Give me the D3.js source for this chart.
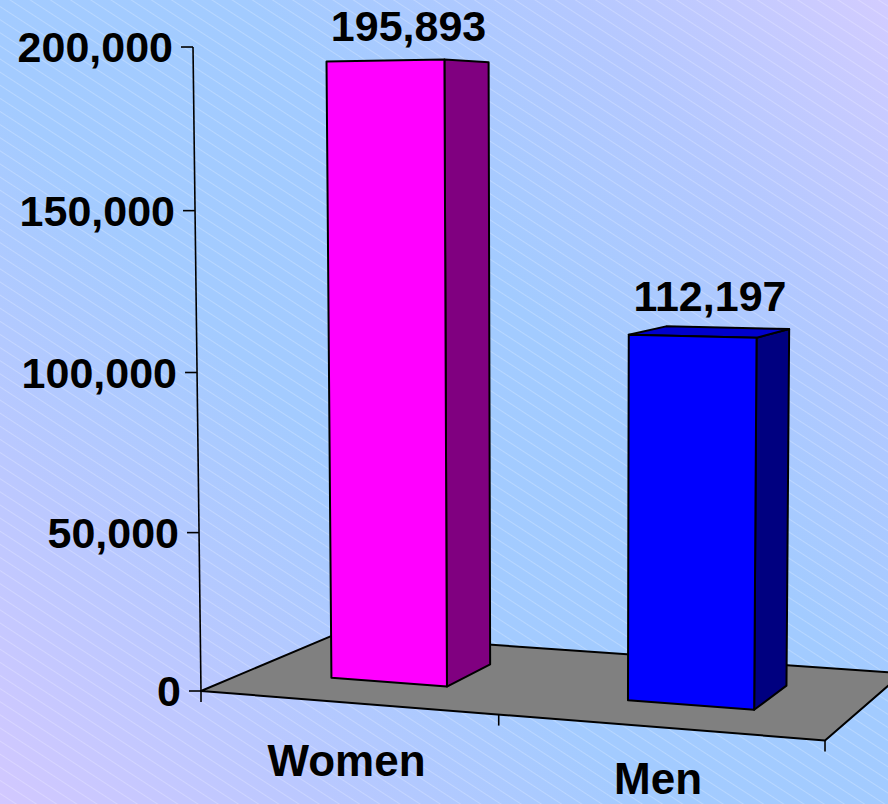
<!DOCTYPE html>
<html><head><meta charset="utf-8">
<script src="https://cdn.jsdelivr.net/npm/d3@7"></script>
<style>html,body{margin:0;padding:0;overflow:hidden;background:#a6cdfe}</style>
</head><body>
<svg id="chart" width="888" height="804"></svg>
<script>
// ---- data ----
const categories = ["Women", "Men"];
const values = [195893, 112197];
const tickValues = [0, 50000, 100000, 150000, 200000];
const frontColors = ["#ff00ff", "#0000ff"];
const sideColors = ["#800080", "#000080"];
const topColors = ["#cc00cc", "#0000cc"];

// ---- view (perspective camera given by vanishing points) ----
const W = 888, H = 804;
const view = {
  origin: [201, 691],
  vpX: [-6300, 176], kX: -0.08758,
  vpY: [565, 30000], kY: -0.0215,
  vpZ: [1530, 130], kZ: 0.1129
};
const P = [
  [view.kX * view.vpX[0], view.kY * view.vpY[0], view.kZ * view.vpZ[0], view.origin[0]],
  [view.kX * view.vpX[1], view.kY * view.vpY[1], view.kZ * view.vpZ[1], view.origin[1]],
  [view.kX, view.kY, view.kZ, 1]
];
function project(X, Y, Z) {
  const h = P.map(r => r[0] * X + r[1] * Y + r[2] * Z + r[3]);
  return [h[0] / h[2], h[1] / h[2]];
}
function det3(m) {
  return m[0][0] * (m[1][1] * m[2][2] - m[1][2] * m[2][1])
       - m[0][1] * (m[1][0] * m[2][2] - m[1][2] * m[2][0])
       + m[0][2] * (m[1][0] * m[2][1] - m[1][1] * m[2][0]);
}
const Ch = [0, 1, 2, 3].map(i => {
  const m = P.map(r => r.filter((_, j) => j !== i));
  return (i % 2 ? -1 : 1) * det3(m);
});
const cam = [Ch[0] / Ch[3], Ch[1] / Ch[3], Ch[2] / Ch[3]];

// ---- world scales ----
const x = d3.scaleBand().domain(categories).range([0, 1]).paddingInner(0.6).paddingOuter(0.3);
const y = d3.scaleLinear().domain([0, 200000]).range([0, 1]);
const zBar = [0.32, 0.69];

const svg = d3.select("#chart");
const defs = svg.append("defs");
const grad = defs.append("linearGradient").attr("id", "bg")
  .attr("gradientUnits", "userSpaceOnUse")
  .attr("x1", 0).attr("y1", H).attr("x2", W).attr("y2", 0);
[[0, "#d2c8ff"], [0.2, "#bac8ff"], [0.4, "#a3cbff"], [0.6, "#a2cbff"], [0.8, "#b4c8ff"], [1, "#d2ccff"]]
  .forEach(([o, c]) => grad.append("stop").attr("offset", o).attr("stop-color", c));
const pat = defs.append("pattern").attr("id", "stripes")
  .attr("patternUnits", "userSpaceOnUse").attr("width", 40).attr("height", 11)
  .attr("patternTransform", "rotate(33)");
pat.append("line").attr("x1", 0).attr("y1", 5.5).attr("x2", 40).attr("y2", 5.5)
  .attr("stroke", "#ffffff").attr("stroke-opacity", 0.3).attr("stroke-width", 0.8);

svg.append("rect").attr("width", W).attr("height", H).attr("fill", "url(#bg)");
svg.append("rect").attr("width", W).attr("height", H).attr("fill", "url(#stripes)");

const line = d3.line();
const poly = pts => line(pts) + "Z";
const font = "'Liberation Sans', Arial, sans-serif";

// floor
svg.append("path")
  .attr("d", poly([project(0, 0, 0), project(1, 0, 0), project(1, 0, 1), project(0, 0, 1)]))
  .attr("fill", "#808080").attr("stroke", "#000").attr("stroke-width", 2).attr("stroke-linejoin", "round");

// bars
categories.forEach((cat, i) => {
  const x0 = x(cat), x1 = x(cat) + x.bandwidth();
  const [z0, z1] = zBar;
  const h = y(values[i]);
  const g = svg.append("g");
  const faces = [];
  if (cam[0] > x1) faces.push({ pts: [[x1, 0, z0], [x1, 0, z1], [x1, h, z1], [x1, h, z0]], fill: sideColors[i] });
  if (cam[0] < x0) faces.push({ pts: [[x0, 0, z0], [x0, 0, z1], [x0, h, z1], [x0, h, z0]], fill: sideColors[i] });
  if (cam[1] > h) faces.push({ pts: [[x0, h, z0], [x1, h, z0], [x1, h, z1], [x0, h, z1]], fill: topColors[i] });
  faces.push({ pts: [[x0, 0, z0], [x1, 0, z0], [x1, h, z0], [x0, h, z0]], fill: frontColors[i] });
  faces.forEach(f => {
    g.append("path").attr("d", poly(f.pts.map(p => project(...p))))
      .attr("fill", f.fill).attr("stroke", "#000").attr("stroke-width", 2).attr("stroke-linejoin", "round");
  });
  const c = project(x0 + x.bandwidth() / 2, h, (z0 + z1) / 2);
  svg.append("text").attr("x", c[0]).attr("y", c[1] - 21)
    .attr("text-anchor", "middle")
    .attr("font-family", font).attr("font-weight", "bold")
    .attr("font-size", 43).attr("fill", "#000")
    .text(d3.format(",")(values[i]));
  const f = project(x0 + x.bandwidth() / 2, 0, 0);
  svg.append("text").attr("x", f[0]).attr("y", Math.min(f[1] + 73, H - 10))
    .attr("text-anchor", "middle")
    .attr("font-family", font).attr("font-weight", "bold")
    .attr("font-size", 44).attr("fill", "#000")
    .text(cat);
});

// value axis
const a0 = project(0, 0, 0), a1 = project(0, y(200000), 0);
svg.append("line").attr("x1", a0[0]).attr("y1", a0[1]).attr("x2", a1[0]).attr("y2", a1[1])
  .attr("stroke", "#000").attr("stroke-width", 1.6);
tickValues.forEach(v => {
  const p = project(0, y(v), 0);
  svg.append("line").attr("x1", p[0] - 12).attr("y1", p[1]).attr("x2", p[0]).attr("y2", p[1])
    .attr("stroke", "#000").attr("stroke-width", 1.6);
  svg.append("text").attr("x", p[0] - 20).attr("y", p[1] + 15)
    .attr("text-anchor", "end")
    .attr("font-family", font).attr("font-weight", "bold")
    .attr("font-size", 43).attr("fill", "#000")
    .text(d3.format(",")(v));
});
// category axis ticks
[0, 0.5, 1].forEach(t => {
  const p = project(t, 0, 0);
  svg.append("line").attr("x1", p[0]).attr("y1", p[1]).attr("x2", p[0]).attr("y2", p[1] + 11)
    .attr("stroke", "#000").attr("stroke-width", 1.6);
});
</script>
</body></html>
